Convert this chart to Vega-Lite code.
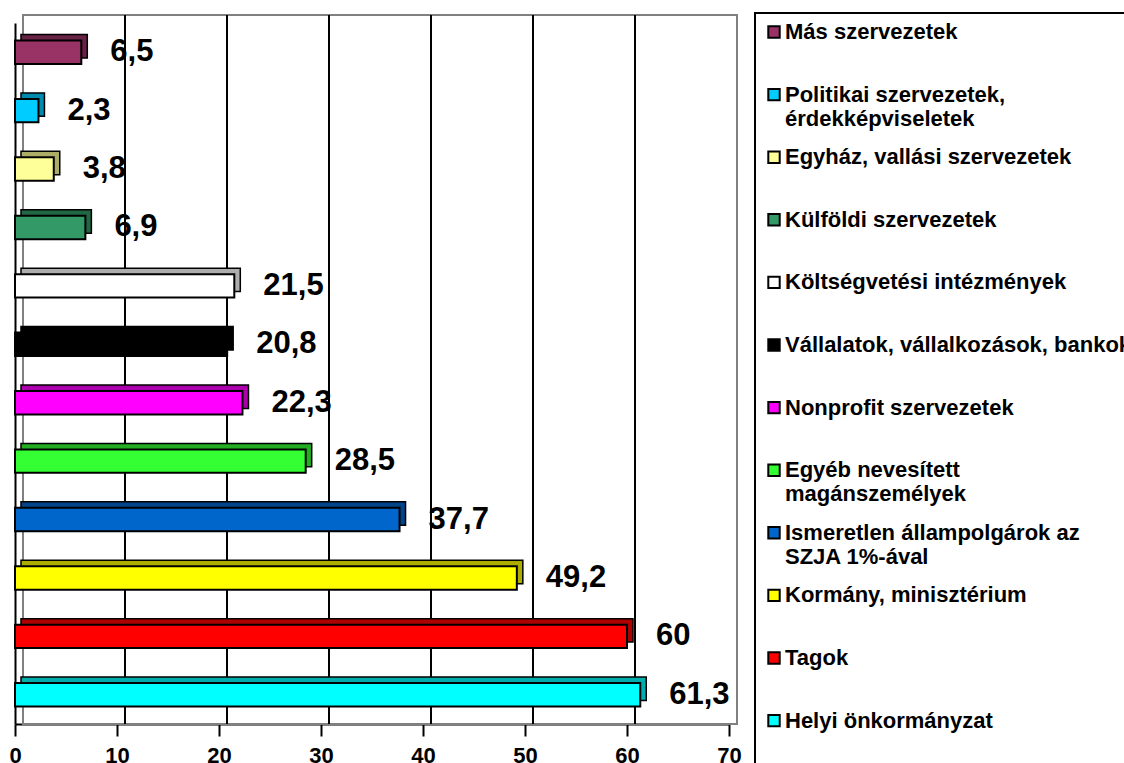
{
  "$schema": "https://vega.github.io/schema/vega-lite/v6.json",
  "width": 714,
  "height": 701,
  "autosize": {"type": "none"},
  "padding": {"left": 15, "top": 23, "right": 395, "bottom": 39},
  "background": "white",
  "config": {
    "view": {"stroke": null},
    "font": "Liberation Sans",
    "locale": {"number": {"decimal": ",", "thousands": " ", "grouping": [3], "currency": ["", " Ft"]}},
    "axisX": {
      "grid": false, "title": null,
      "labelFont": "Liberation Sans", "labelFontSize": 22, "labelFontWeight": "bold", "labelColor": "black",
      "labelPadding": 9, "tickSize": 12, "tickWidth": 2, "tickColor": "black",
      "domainColor": "black", "domainWidth": 2, "labelFlush": false, "labelOverlap": false
    },
    "legend": {"strokeWidth": 2}
  },
  "data": {
    "values": [
      {"forras": "Más szervezetek", "ertek": 6.5},
      {"forras": "Politikai szervezetek, érdekképviseletek", "ertek": 2.3},
      {"forras": "Egyház, vallási szervezetek", "ertek": 3.8},
      {"forras": "Külföldi szervezetek", "ertek": 6.9},
      {"forras": "Költségvetési intézmények", "ertek": 21.5},
      {"forras": "Vállalatok, vállalkozások, bankok", "ertek": 20.8},
      {"forras": "Nonprofit szervezetek", "ertek": 22.3},
      {"forras": "Egyéb nevesített magánszemélyek", "ertek": 28.5},
      {"forras": "Ismeretlen állampolgárok az SZJA 1%-ával", "ertek": 37.7},
      {"forras": "Kormány, minisztérium", "ertek": 49.2},
      {"forras": "Tagok", "ertek": 60},
      {"forras": "Helyi önkormányzat", "ertek": 61.3}
    ]
  },
  "layer": [
    {
      "data": {"values": [{"fal": "hátfal"}]},
      "mark": {"type": "rect", "fill": "white", "stroke": "#808080", "strokeWidth": 2, "xOffset": 8, "x2Offset": 8, "yOffset": -8, "y2Offset": -8},
      "encoding": {
        "x": {"datum": 0, "type": "quantitative", "title": null},
        "x2": {"datum": 70}
      }
    },
    {
      "data": {"values": [{"racs": 10}, {"racs": 20}, {"racs": 30}, {"racs": 40}, {"racs": 50}, {"racs": 60}]},
      "mark": {"type": "rule", "color": "black", "strokeWidth": 2, "xOffset": 8, "yOffset": -8, "y2Offset": -8},
      "encoding": {
        "x": {"field": "racs", "type": "quantitative", "title": null}
      }
    },
    {
      "mark": {"type": "bar", "stroke": "black", "strokeWidth": 1.5, "xOffset": 6, "x2Offset": 6, "yOffset": -6, "y2Offset": -6},
      "encoding": {
        "x": {"field": "ertek", "type": "quantitative", "title": null},
        "y": {"field": "forras", "type": "nominal", "sort": null, "title": null},
        "color": {
          "field": "forras", "type": "nominal",
          "scale": {
            "domain": ["Más szervezetek", "Politikai szervezetek, érdekképviseletek", "Egyház, vallási szervezetek", "Külföldi szervezetek", "Költségvetési intézmények", "Vállalatok, vállalkozások, bankok", "Nonprofit szervezetek", "Egyéb nevesített magánszemélyek", "Ismeretlen állampolgárok az SZJA 1%-ával", "Kormány, minisztérium", "Tagok", "Helyi önkormányzat"],
            "range": ["#993366", "#00CCFF", "#FFFF99", "#339966", "#FFFFFF", "#000000", "#FF00FF", "#33FF33", "#0066CC", "#FFFF00", "#FF0000", "#00FFFF"]
          },
          "legend": {
            "title": null, "orient": "none", "legendX": 740, "legendY": -10,
            "symbolType": "square", "symbolSize": 130, "symbolStrokeColor": "black", "symbolStrokeWidth": 2, "symbolOpacity": 1,
            "labelFont": "Liberation Sans", "labelFontWeight": "bold", "labelFontSize": 22, "labelColor": "black", "labelLimit": 1000,
            "labelOffset": 0, "labelBaseline": "middle",
            "strokeColor": "black", "padding": 8, "rowPadding": 16.6, "gridAlign": "each",
            "labelExpr": "datum.label === 'Politikai szervezetek, érdekképviseletek' ? ['Politikai szervezetek,', 'érdekképviseletek'] : datum.label === 'Egyéb nevesített magánszemélyek' ? ['Egyéb nevesített', 'magánszemélyek'] : datum.label === 'Ismeretlen állampolgárok az SZJA 1%-ával' ? ['Ismeretlen állampolgárok az', 'SZJA 1%-ával'] : datum.label === 'Helyi önkormányzat' ? [datum.label, '', ''] : [datum.label, '']"
          }
        }
      }
    },
    {
      "mark": {"type": "bar", "fill": "black", "fillOpacity": 0.32, "xOffset": 6, "x2Offset": 6, "yOffset": -6, "y2Offset": -6},
      "encoding": {
        "x": {"field": "ertek", "type": "quantitative", "title": null},
        "y": {"field": "forras", "type": "nominal", "sort": null, "title": null}
      }
    },
    {
      "mark": {"type": "bar", "stroke": "black", "strokeWidth": 2},
      "encoding": {
        "x": {
          "field": "ertek", "type": "quantitative", "title": null,
          "scale": {"domain": [0, 70], "nice": false, "zero": true},
          "axis": {
            "values": [0, 10, 20, 30, 40, 50, 60, 70], "grid": false, "title": null,
            "labelFont": "Liberation Sans", "labelFontSize": 22, "labelFontWeight": "bold", "labelColor": "black",
            "labelPadding": 9, "tickSize": 12, "tickWidth": 2, "tickColor": "black",
            "domainColor": "black", "domainWidth": 2, "labelFlush": false, "labelOverlap": false
          }
        },
        "y": {
          "field": "forras", "type": "nominal", "sort": null, "title": null,
          "scale": {"paddingInner": 0.6, "paddingOuter": 0.3},
          "axis": {"labels": false, "ticks": false, "grid": false, "title": null, "domainColor": "black", "domainWidth": 2}
        },
        "color": {
          "field": "forras", "type": "nominal",
          "scale": {
            "domain": ["Más szervezetek", "Politikai szervezetek, érdekképviseletek", "Egyház, vallási szervezetek", "Külföldi szervezetek", "Költségvetési intézmények", "Vállalatok, vállalkozások, bankok", "Nonprofit szervezetek", "Egyéb nevesített magánszemélyek", "Ismeretlen állampolgárok az SZJA 1%-ával", "Kormány, minisztérium", "Tagok", "Helyi önkormányzat"],
            "range": ["#993366", "#00CCFF", "#FFFF99", "#339966", "#FFFFFF", "#000000", "#FF00FF", "#33FF33", "#0066CC", "#FFFF00", "#FF0000", "#00FFFF"]
          },
          "legend": {
            "title": null, "orient": "none", "legendX": 740, "legendY": -10,
            "symbolType": "square", "symbolSize": 130, "symbolStrokeColor": "black", "symbolStrokeWidth": 2, "symbolOpacity": 1,
            "labelFont": "Liberation Sans", "labelFontWeight": "bold", "labelFontSize": 22, "labelColor": "black", "labelLimit": 1000,
            "labelOffset": 0, "labelBaseline": "middle",
            "strokeColor": "black", "padding": 8, "rowPadding": 16.6, "gridAlign": "each",
            "labelExpr": "datum.label === 'Politikai szervezetek, érdekképviseletek' ? ['Politikai szervezetek,', 'érdekképviseletek'] : datum.label === 'Egyéb nevesített magánszemélyek' ? ['Egyéb nevesített', 'magánszemélyek'] : datum.label === 'Ismeretlen állampolgárok az SZJA 1%-ával' ? ['Ismeretlen állampolgárok az', 'SZJA 1%-ával'] : datum.label === 'Helyi önkormányzat' ? [datum.label, '', ''] : [datum.label, '']"
          }
        }
      }
    },
    {
      "mark": {"type": "text", "align": "left", "baseline": "middle", "dx": 29, "font": "Liberation Sans", "fontSize": 31, "fontWeight": "bold", "color": "black"},
      "encoding": {
        "x": {"field": "ertek", "type": "quantitative", "title": null},
        "y": {"field": "forras", "type": "nominal", "sort": null, "title": null},
        "text": {"field": "ertek", "type": "quantitative", "format": ".1~f"}
      }
    }
  ]
}
